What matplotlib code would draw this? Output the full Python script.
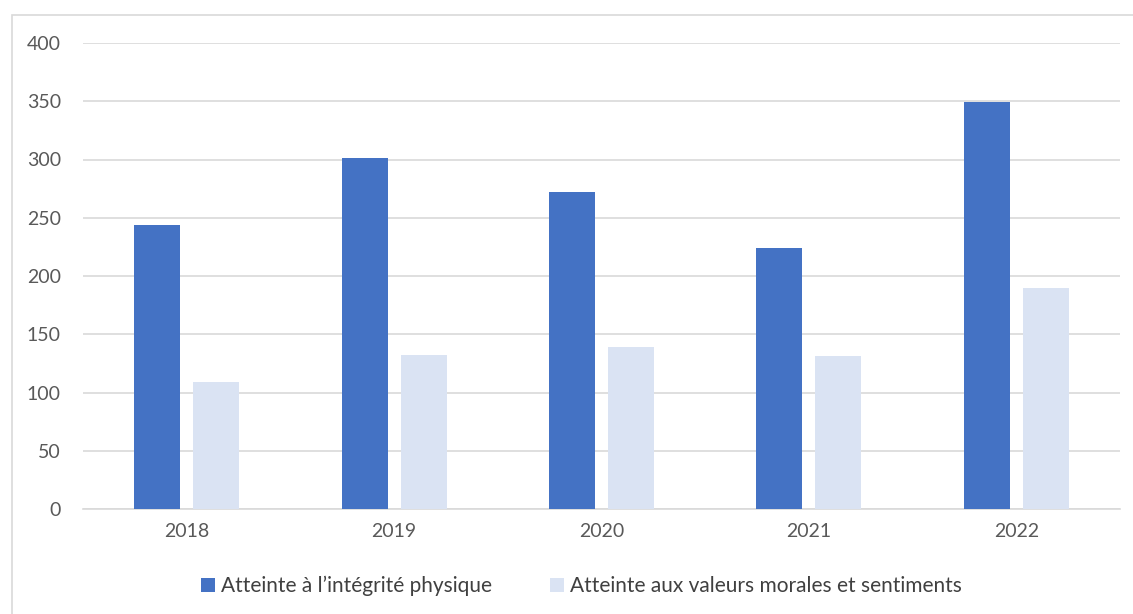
import matplotlib
matplotlib.use("Agg")
import matplotlib.pyplot as plt
import numpy as np
from matplotlib.patches import Rectangle

years = ["2018", "2019", "2020", "2021", "2022"]
physique = [244, 301, 272, 224, 349]
morales = [109, 132, 139, 131, 190]
series_names = ["Atteinte à l\u2019intégrité physique", "Atteinte aux valeurs morales et sentiments"]
yticks = [0, 50, 100, 150, 200, 250, 300, 350, 400]

plt.rcParams['font.family'] = ['Lato', 'DejaVu Sans']
W, H = 1133, 614
fig = plt.figure(figsize=(W/100, H/100), dpi=100)
ax = fig.add_axes([83/W, 1-509/H, (1120-83)/W, (509-43)/H])

x = np.arange(len(years))
bw = 0.222
off = 0.1425
ax.bar(x - off, physique, bw, color='#4472C4', label=series_names[0], zorder=3)
ax.bar(x + off, morales, bw, color='#DAE3F3', label=series_names[1], zorder=3)

ax.set_xlim(-0.5, len(years) - 0.5)
ax.set_ylim(0, 400)
ax.set_yticks(yticks)
ax.set_yticklabels([str(v) for v in yticks])
ax.set_xticks(x)
ax.set_xticklabels(years)
ax.yaxis.grid(True, color='#D9D9D9', linewidth=1.2, zorder=0)
ax.set_axisbelow(True)
for s in ['top', 'right', 'left']:
    ax.spines[s].set_visible(False)
ax.spines['bottom'].set_color('#D9D9D9')
ax.spines['bottom'].set_linewidth(1.2)
ax.tick_params(axis='both', length=0, labelsize=14, colors='#595959')
ax.tick_params(axis='y', pad=16)
ax.tick_params(axis='x', pad=10)

leg = fig.legend(loc='center', bbox_to_anchor=(0.5 + 15/W, 1-586/H), ncol=2, frameon=False,
                 fontsize=15, handlelength=0.65, handleheight=0.65, handletextpad=0.3,
                 columnspacing=2.8)
for t in leg.get_texts():
    t.set_color('#404040')

fig.patches.append(Rectangle((11.5/W, -0.1), 1.2, 1.1 - 15/H, transform=fig.transFigure,
                             fill=False, edgecolor='#D9D9D9', linewidth=1.2))

fig.savefig('out.png', dpi=100)
